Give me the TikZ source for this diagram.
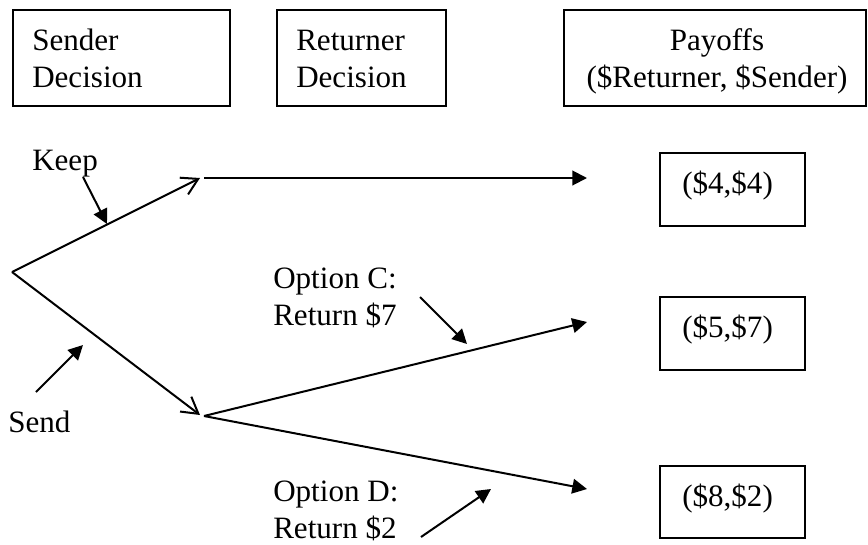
\documentclass[tikz,border=0pt]{standalone}
\usepackage{fontspec}
\setmainfont{Liberation Serif}
\usetikzlibrary{arrows.meta}
\begin{document}
\begin{tikzpicture}[x=0.75pt,y=-0.75pt,
  txt/.style={font=\fontsize{23.3pt}{27.75pt}\selectfont, inner sep=0pt},
  frame/.style={draw, line width=1.5pt, inner sep=0pt, anchor=north west},
  filled/.style={line width=1.5pt, -{Triangle[length=11pt,width=11pt]}},
  opentip/.style={line width=1.5pt, -{Straight Barb[length=12pt,width=14pt,line width=1.5pt]}}]
\useasboundingbox (0,0) rectangle (868,544);
% header boxes
\node[frame, minimum width=217*0.75pt, minimum height=96*0.75pt] (b1) at (12,9) {};
\node[frame, minimum width=169*0.75pt, minimum height=96*0.75pt] (b2) at (276,9) {};
\node[frame, minimum width=302*0.75pt, minimum height=96*0.75pt] (b3) at (563,9) {};
\node[txt, anchor=base west] (t1a) at (32,50) {Sender};
\node[txt, anchor=base west] (t1b) at (32,87) {Decision};
\node[txt, anchor=base west] (t2a) at (296,50) {Returner};
\node[txt, anchor=base west] (t2b) at (296,87) {Decision};
\node[txt, anchor=base] (t3a) at (717,50) {Payoffs};
\node[txt, anchor=base] (t3b) at (717,87) {(\$Returner, \$Sender)};
% payoff boxes
\node[frame, minimum width=145*0.75pt, minimum height=73*0.75pt] (p1) at (659,152) {};
\node[frame, minimum width=145*0.75pt, minimum height=73*0.75pt] (p2) at (659,296) {};
\node[frame, minimum width=145*0.75pt, minimum height=72*0.75pt] (p3) at (659,465) {};
\node[txt, anchor=base west] (v1) at (682,193) {(\$4,\$4)};
\node[txt, anchor=base west] (v2) at (682,337) {(\$5,\$7)};
\node[txt, anchor=base west] (v3) at (682,506) {(\$8,\$2)};
% tree points
\coordinate (root) at (12,272);
\coordinate (k) at (200,178);
\coordinate (k2) at (204,178);
\coordinate (s) at (200,415);
\coordinate (s2) at (204,416);
\coordinate (e1) at (587,178);
\coordinate (e2) at (587,322);
\coordinate (e3) at (587,489);
\draw[opentip] (root) -- (k);
\draw[opentip] (root) -- (s);
\draw[filled] (k2) -- (e1);
\draw[filled] (s2) -- (e2);
\draw[filled] (s2) -- (e3);
% labels
\node[txt, anchor=base west] (lk) at (32,170) {Keep};
\node[txt, anchor=base west] (ls) at (8,432) {Send};
\node[txt, anchor=base west] (lc1) at (273,288) {Option C:};
\node[txt, anchor=base west] (lc2) at (273,325) {Return \$7};
\node[txt, anchor=base west] (ld1) at (273,501) {Option D:};
\node[txt, anchor=base west] (ld2) at (273,538) {Return \$2};
\coordinate (ka) at (83,177);
\coordinate (kb) at (107,224);
\coordinate (sa) at (36,392);
\coordinate (sb) at (83,345);
\coordinate (ca) at (420,297);
\coordinate (cb) at (467,344);
\coordinate (da) at (421,537);
\coordinate (db) at (491,489);
\draw[filled] (ka) -- (kb);
\draw[filled] (sa) -- (sb);
\draw[filled] (ca) -- (cb);
\draw[filled] (da) -- (db);
\end{tikzpicture}
\end{document}
